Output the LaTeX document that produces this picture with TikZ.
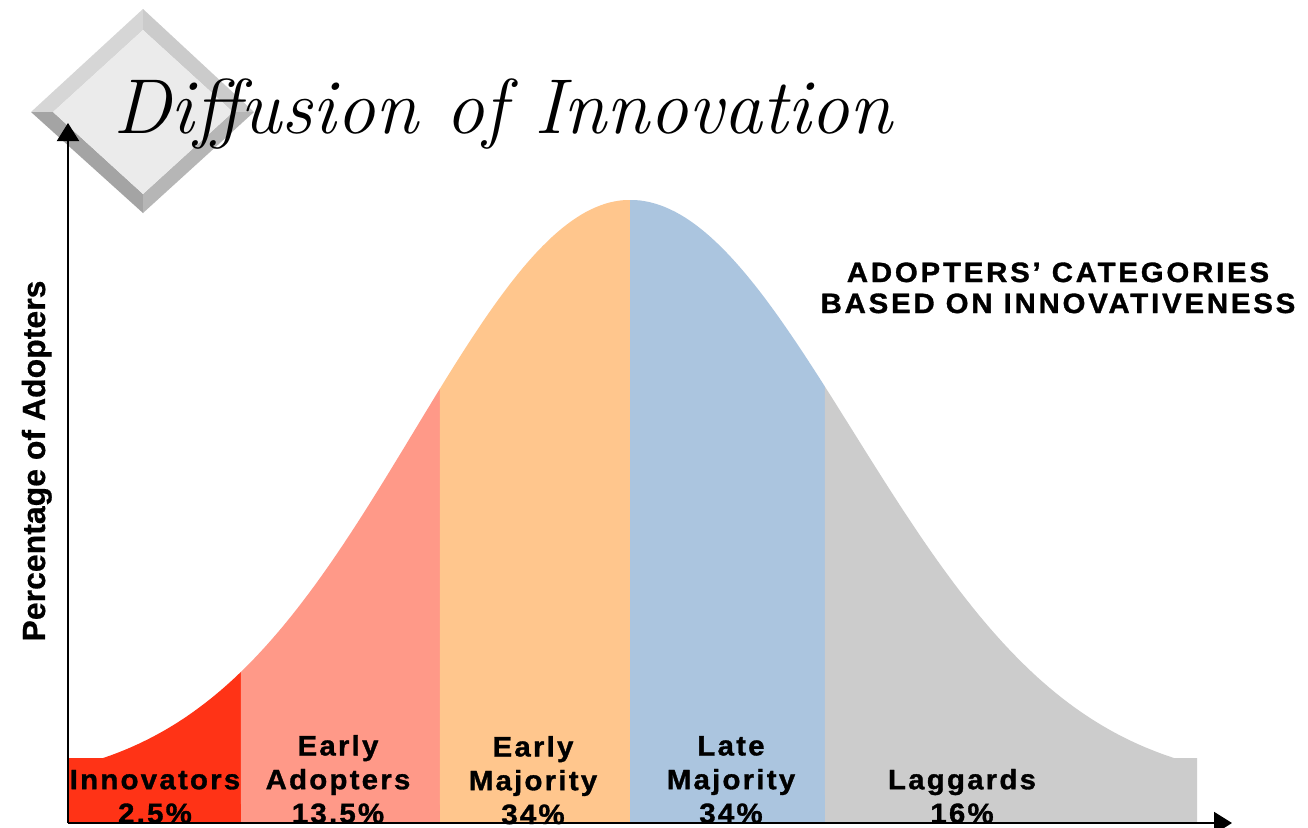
\documentclass[tikz,border=0pt]{standalone}
\usepackage{fontspec}
\usetikzlibrary{arrows.meta}
\newfontfamily\labfont{Liberation Sans}[LetterSpace=8, FakeStretch=1.05, FakeBold=1.2]
\newfontfamily\headfont{Liberation Sans}[LetterSpace=10, FakeStretch=1.05, FakeBold=1.2]
\newfontfamily\axfont{Liberation Sans}[FakeBold=0.6]
\definecolor{innov}{HTML}{FF3316}
\definecolor{earlyad}{HTML}{FF9988}
\definecolor{emaj}{HTML}{FFC68D}
\definecolor{lmaj}{HTML}{ABC5DF}
\definecolor{lagg}{HTML}{CCCCCC}
\definecolor{dface}{HTML}{EBEBEB}
\definecolor{dtl}{HTML}{D6D6D6}
\definecolor{dtr}{HTML}{CBCBCB}
\definecolor{dbl}{HTML}{A4A4A4}
\definecolor{dbr}{HTML}{B6B6B6}
\begin{document}
\begin{tikzpicture}[x=0.5pt,y=-0.5pt,
  lab/.style={font=\labfont\bfseries\fontsize{14pt}{16.9pt}\selectfont, align=center, inner sep=0pt, anchor=base},
  head/.style={font=\headfont\bfseries\fontsize{14pt}{15.5pt}\selectfont, align=center, inner sep=0pt, anchor=base},
  axlab/.style={font=\axfont\bfseries\fontsize{16pt}{18pt}\selectfont, inner sep=0pt, anchor=base, rotate=90},
  ttl/.style={font=\itshape\fontsize{38.9pt}{42pt}\selectfont, inner sep=0pt, anchor=base west},
  axis/.style={line width=1pt, black, -{Triangle[length=9pt,width=11pt]}}]
\useasboundingbox (0,0) rectangle (1308,827);
\fill[white] (0,0) rectangle (1308,827);
% diamond
\coordinate (T) at (143,9); \coordinate (L) at (31,112);
\coordinate (B) at (143,213); \coordinate (R) at (254,112);
\coordinate (Ti) at (143,30); \coordinate (Li) at (53,112);
\coordinate (Bi) at (143,194); \coordinate (Ri) at (233,112);
\fill[dtl] (T) -- (L) -- (Li) -- (Ti) -- cycle;
\fill[dtr] (T) -- (R) -- (Ri) -- (Ti) -- cycle;
\fill[dbl] (L) -- (B) -- (Bi) -- (Li) -- cycle;
\fill[dbr] (B) -- (R) -- (Ri) -- (Bi) -- cycle;
\fill[dface] (Ti) -- (Ri) -- (Bi) -- (Li) -- cycle;
% bell curve regions: y = 788 - 588 exp(-u^2/2), x = 630 + s u (s=216 left, 223 right), floor at 758
\fill[innov] (68,823) -- (68,758) -- (103,758) -- plot[domain=-2.44:-1.801, samples=40, variable=\u] ({630+216*\u},{788-588*exp(-0.5*(\u)*(\u))}) -- (241,823) -- cycle;
\fill[earlyad] (241,823) -- plot[domain=-1.801:-0.880, samples=40, variable=\u] ({630+216*\u},{788-588*exp(-0.5*(\u)*(\u))}) -- (440,823) -- cycle;
\fill[emaj] (440,823) -- plot[domain=-0.880:0, samples=40, variable=\u] ({630+216*\u},{788-588*exp(-0.5*(\u)*(\u))}) -- (630,823) -- cycle;
\fill[lmaj] (630,823) -- plot[domain=0:0.874, samples=40, variable=\u] ({630+223*\u},{788-588*exp(-0.5*(\u)*(\u))}) -- (825,823) -- cycle;
\fill[lagg] (825,823) -- plot[domain=0.874:2.44, samples=60, variable=\u] ({630+223*\u},{788-588*exp(-0.5*(\u)*(\u))}) -- (1197,758) -- (1197,823) -- cycle;
% title
\node[ttl] (title) at (113,133) {Diffusion of Innovation};
% labels
\node[lab] (innov) at (155,823) {Innovators\\2.5\%};
\node[lab] (eadopt) at (338,823) {Early\\Adopters\\13.5\%};
\node[lab] (emajor) at (533,824) {Early\\Majority\\34\%};
\node[lab] (lmajor) at (731,823) {Late\\Majority\\34\%};
\node[lab] (laggard) at (962,823) {Laggards\\16\%};
\node[head] (cats) at (1058,313) {ADOPTERS’ CATEGORIES\\BASED ON INNOVATIVENESS};
\node[axlab] (ylab) at (45,461) {Percentage of Adopters};
% axes
\coordinate (O) at (68,823);
\coordinate (ytip) at (68,123);
\coordinate (xtip) at (1232,823);
\draw[axis] (O) -- (ytip);
\draw[axis] (O) -- (xtip);
\end{tikzpicture}
\end{document}
